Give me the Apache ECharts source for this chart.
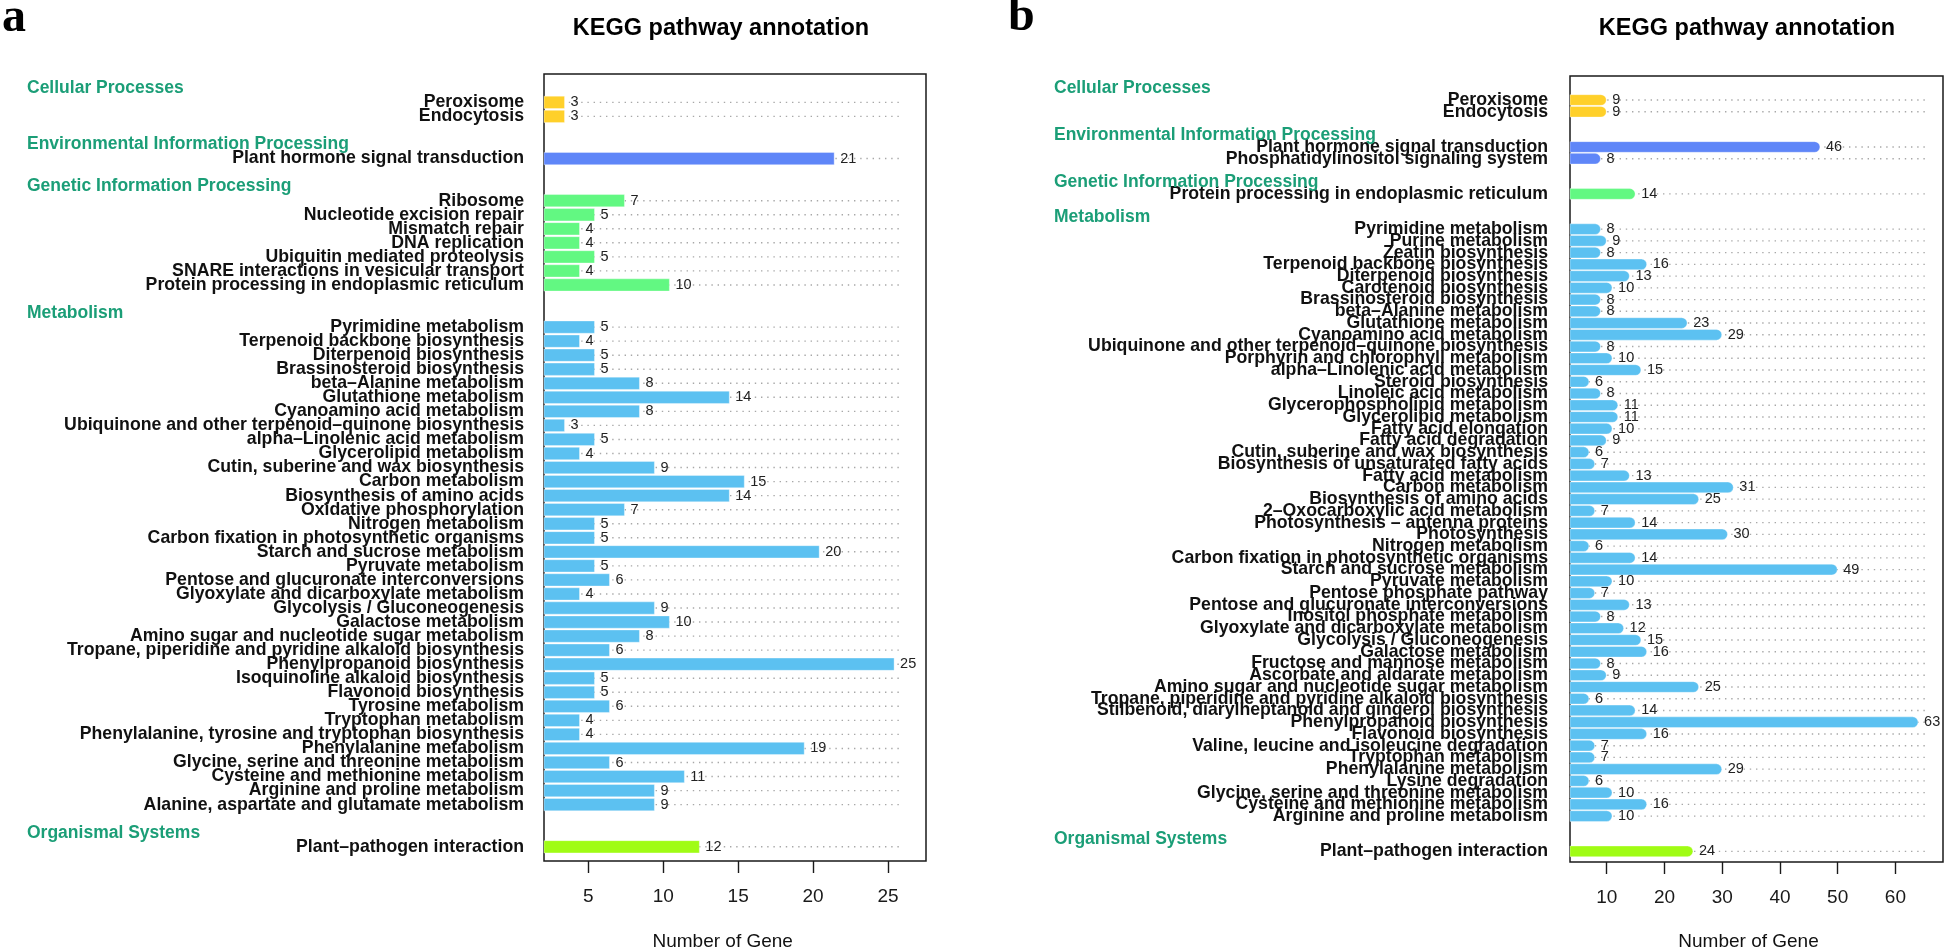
<!DOCTYPE html>
<html><head><meta charset="utf-8">
<script src="https://cdn.jsdelivr.net/npm/echarts@6/dist/echarts.min.js"></script>
<style>html,body{margin:0;padding:0;background:#fff}#c{width:1946px;height:952px}</style>
</head><body><div id="c"></div>
<script>
// ---------- DATA ----------
const groupNames = ['Cellular Processes', 'Environmental Information Processing', 'Genetic Information Processing', 'Metabolism', 'Organismal Systems'];
const groupColors = ['#FFD02A', '#5F86F8', '#62F882', '#5CC1F1', '#A0FC14'];

// Panel a
const groupSizesA = [2, 1, 7, 35, 1];
const pathwaysA = [
  'Peroxisome', 'Endocytosis',
  'Plant hormone signal transduction',
  'Ribosome', 'Nucleotide excision repair', 'Mismatch repair', 'DNA replication', 'Ubiquitin mediated proteolysis', 'SNARE interactions in vesicular transport', 'Protein processing in endoplasmic reticulum',
  'Pyrimidine metabolism', 'Terpenoid backbone biosynthesis', 'Diterpenoid biosynthesis', 'Brassinosteroid biosynthesis', 'beta–Alanine metabolism', 'Glutathione metabolism', 'Cyanoamino acid metabolism', 'Ubiquinone and other terpenoid–quinone biosynthesis', 'alpha–Linolenic acid metabolism', 'Glycerolipid metabolism', 'Cutin, suberine and wax biosynthesis', 'Carbon metabolism', 'Biosynthesis of amino acids', 'Oxidative phosphorylation', 'Nitrogen metabolism', 'Carbon fixation in photosynthetic organisms', 'Starch and sucrose metabolism', 'Pyruvate metabolism', 'Pentose and glucuronate interconversions', 'Glyoxylate and dicarboxylate metabolism', 'Glycolysis / Gluconeogenesis', 'Galactose metabolism', 'Amino sugar and nucleotide sugar metabolism', 'Tropane, piperidine and pyridine alkaloid biosynthesis', 'Phenylpropanoid biosynthesis', 'Isoquinoline alkaloid biosynthesis', 'Flavonoid biosynthesis', 'Tyrosine metabolism', 'Tryptophan metabolism', 'Phenylalanine, tyrosine and tryptophan biosynthesis', 'Phenylalanine metabolism', 'Glycine, serine and threonine metabolism', 'Cysteine and methionine metabolism', 'Arginine and proline metabolism', 'Alanine, aspartate and glutamate metabolism',
  'Plant–pathogen interaction'
];
const countsA = [
  3, 3,
  21,
  7, 5, 4, 4, 5, 4, 10,
  5, 4, 5, 5, 8, 14, 8, 3, 5, 4, 9, 15, 14, 7, 5, 5, 20, 5, 6, 4, 9, 10, 8, 6, 25, 5, 5, 6, 4, 4, 19, 6, 11, 9, 9,
  12
];
const xTicksA = [5, 10, 15, 20, 25];

// Panel b
const groupSizesB = [2, 2, 1, 51, 1];
const pathwaysB = [
  'Peroxisome', 'Endocytosis',
  'Plant hormone signal transduction', 'Phosphatidylinositol signaling system',
  'Protein processing in endoplasmic reticulum',
  'Pyrimidine metabolism', 'Purine metabolism', 'Zeatin biosynthesis', 'Terpenoid backbone biosynthesis', 'Diterpenoid biosynthesis', 'Carotenoid biosynthesis', 'Brassinosteroid biosynthesis', 'beta–Alanine metabolism', 'Glutathione metabolism', 'Cyanoamino acid metabolism', 'Ubiquinone and other terpenoid–quinone biosynthesis', 'Porphyrin and chlorophyll metabolism', 'alpha–Linolenic acid metabolism', 'Steroid biosynthesis', 'Linoleic acid metabolism', 'Glycerophospholipid metabolism', 'Glycerolipid metabolism', 'Fatty acid elongation', 'Fatty acid degradation', 'Cutin, suberine and wax biosynthesis', 'Biosynthesis of unsaturated fatty acids', 'Fatty acid metabolism', 'Carbon metabolism', 'Biosynthesis of amino acids', '2–Oxocarboxylic acid metabolism', 'Photosynthesis – antenna proteins', 'Photosynthesis', 'Nitrogen metabolism', 'Carbon fixation in photosynthetic organisms', 'Starch and sucrose metabolism', 'Pyruvate metabolism', 'Pentose phosphate pathway', 'Pentose and glucuronate interconversions', 'Inositol phosphate metabolism', 'Glyoxylate and dicarboxylate metabolism', 'Glycolysis / Gluconeogenesis', 'Galactose metabolism', 'Fructose and mannose metabolism', 'Ascorbate and aldarate metabolism', 'Amino sugar and nucleotide sugar metabolism', 'Tropane, piperidine and pyridine alkaloid biosynthesis', 'Stilbenoid, diarylheptanoid and gingerol biosynthesis', 'Phenylpropanoid biosynthesis', 'Flavonoid biosynthesis', 'Valine, leucine and isoleucine degradation', 'Tryptophan metabolism', 'Phenylalanine metabolism', 'Lysine degradation', 'Glycine, serine and threonine metabolism', 'Cysteine and methionine metabolism', 'Arginine and proline metabolism',
  'Plant–pathogen interaction'
];
const countsB = [
  9, 9,
  46, 8,
  14,
  8, 9, 8, 16, 13, 10, 8, 8, 23, 29, 8, 10, 15, 6, 8, 11, 11, 10, 9, 6, 7, 13, 31, 25, 7, 14, 30, 6, 14, 49, 10, 7, 13, 8, 12, 15, 16, 8, 9, 25, 6, 14, 63, 16, 7, 7, 29, 6, 10, 16, 10,
  24
];
const xTicksB = [10, 20, 30, 40, 50, 60];

// ---------- BUILD ----------
function buildSlots(names, counts, sizes) {
  const cats = [], headerMap = {}, items = [];
  let k = 0;
  sizes.forEach((n, g) => {
    if (g > 0) cats.push('~b' + g);
    const hk = '~h' + g;
    headerMap[hk] = groupNames[g];
    cats.push(hk);
    for (let i = 0; i < n; i++, k++) {
      items.push({ value: [counts[k], cats.length], itemStyle: { color: groupColors[g] } });
      cats.push(names[k]);
    }
  });
  return { cats, headerMap, items };
}
const A = buildSlots(pathwaysA, countsA, groupSizesA);
const B = buildSlots(pathwaysB, countsB, groupSizesB);

const FONT = '"Liberation Sans", Arial, Helvetica, sans-serif';

const panels = [
  { s: A, left: 544, width: 382, frameTop: 74, frameH: 787, innerTop: 81.3, innerH: 772.5,
    min: 2.04, max: 27.54, ticks: xTicksA, dotEnd: 25.92, frac: 0.875, round: false, labelPad: 10, headerMargin: 517, labelMargin: 20 },
  { s: B, left: 1570, width: 373, frameTop: 76, frameH: 786, innerTop: 82.4, innerH: 774.8,
    min: 3.64, max: 68.24, ticks: xTicksB, dotEnd: 65.4, frac: 0.91, round: true, labelPad: 3, headerMargin: 516, labelMargin: 22 }
];

const grid = [], xAxis = [], yAxis = [], series = [];
panels.forEach((p, i) => {
  const gFrame = grid.length;
  grid.push({ left: p.left, top: p.frameTop, width: p.width, height: p.frameH, show: true,
    borderColor: '#1a1a1a', borderWidth: 1.5, backgroundColor: 'transparent', containLabel: false });
  const gIn = grid.length;
  grid.push({ left: p.left, top: p.innerTop, width: p.width, height: p.innerH, containLabel: false });

  xAxis.push({ type: 'value', gridIndex: gFrame, min: p.min, max: p.max,
    axisLine: { show: false }, splitLine: { show: false },
    axisTick: { show: true, customValues: p.ticks, length: 12, lineStyle: { color: '#1a1a1a', width: 1.4 } },
    axisLabel: { show: true, customValues: p.ticks, fontSize: 19, color: '#1a1a1a', margin: 26, fontFamily: FONT } });
  const xIn = xAxis.length;
  xAxis.push({ type: 'value', gridIndex: gIn, min: p.min, max: p.max, show: false, splitLine: { show: false } });

  yAxis.push({ type: 'value', gridIndex: gFrame, show: false, min: 0, max: 1, splitLine: { show: false } });
  const yIn = yAxis.length;
  yAxis.push({ type: 'category', gridIndex: gIn, position: 'left', inverse: true, data: p.s.cats,
    axisLine: { show: false }, axisTick: { show: false }, splitLine: { show: false },
    axisLabel: { interval: 0, margin: p.labelMargin, fontSize: 17.7, fontWeight: 'bold', color: '#111',
      fontFamily: FONT, padding: [p.labelPad, 0, 0, 0],
      formatter: v => (v.charAt(0) === '~' ? '' : v) } });
  yAxis.push({ type: 'category', gridIndex: gIn, position: 'left', offset: 0, inverse: true, data: p.s.cats,
    axisLine: { show: false }, axisTick: { show: false }, splitLine: { show: false },
    axisLabel: { interval: 0, margin: p.headerMargin, align: 'left', fontSize: 17.5, fontWeight: 'bold',
      color: '#1B9E77', fontFamily: FONT, padding: [2, 0, 0, 0],
      formatter: v => (p.s.headerMap[v] || '') } });

  series.push({
    type: 'custom', xAxisIndex: xIn, yAxisIndex: yIn, encode: { x: 0, y: 1 }, clip: false,
    data: p.s.items,
    renderItem: (params, api) => {
      const v = api.value(0), idx = api.value(1);
      const s = api.coord([p.min, idx]);
      const e = api.coord([v, idx]);
      const d = api.coord([p.dotEnd, idx]);
      const h = api.size([0, 1])[1] * p.frac;
      const cap = h / 2;
      const w = e[0] - s[0] + cap;
      const color = api.visual('color');
      return { type: 'group', children: [
        { type: 'line', shape: { x1: s[0], y1: s[1], x2: d[0], y2: s[1] },
          style: { stroke: '#a8a8a8', lineWidth: 1.4, lineDash: [1.4, 4.8] } },
        { type: 'rect', shape: { x: s[0], y: s[1] - h / 2, width: w, height: h, r: p.round ? [0, cap, cap, 0] : 0 },
          style: { fill: color, stroke: 'rgba(255,255,255,0.35)', lineWidth: 1 } },
        { type: 'text', style: { x: s[0] + w + 6, y: s[1], text: String(v), fill: '#222',
          font: '14.5px ' + FONT, align: 'left', verticalAlign: 'middle' } }
      ] };
    }
  });
});

const graphic = [
  { type: 'text', x: 2, y: 19, style: { text: 'a', font: 'bold 48px "Liberation Serif", "Times New Roman", serif', fill: '#000', align: 'left', verticalAlign: 'middle' } },
  { type: 'text', x: 1008, y: 18, style: { text: 'b', font: 'bold 48px "Liberation Serif", "Times New Roman", serif', fill: '#000', align: 'left', verticalAlign: 'middle' } },
  { type: 'text', x: 721, y: 29, style: { text: 'KEGG pathway annotation', font: 'bold 23.5px ' + FONT, fill: '#000', align: 'center', verticalAlign: 'middle' } },
  { type: 'text', x: 1747, y: 29, style: { text: 'KEGG pathway annotation', font: 'bold 23.5px ' + FONT, fill: '#000', align: 'center', verticalAlign: 'middle' } },
  { type: 'text', x: 722.7, y: 942, style: { text: 'Number of Gene', font: '19px ' + FONT, fill: '#111', align: 'center', verticalAlign: 'middle' } },
  { type: 'text', x: 1748.5, y: 942, style: { text: 'Number of Gene', font: '19px ' + FONT, fill: '#111', align: 'center', verticalAlign: 'middle' } }
];

const chart = echarts.init(document.getElementById('c'), null, { renderer: 'canvas' });
chart.setOption({
  animation: false,
  backgroundColor: '#fff',
  textStyle: { fontFamily: FONT },
  grid, xAxis, yAxis, series, graphic
});
</script></body></html>
